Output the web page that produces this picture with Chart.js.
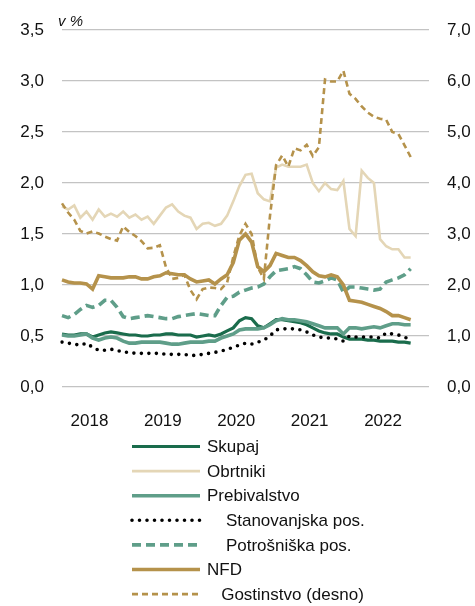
<!DOCTYPE html>
<html>
<head>
<meta charset="utf-8">
<script src="https://cdn.jsdelivr.net/npm/chart.js@4.4.1/dist/chart.umd.min.js"></script>
<style>
  html, body { margin: 0; padding: 0; background: #fff; }
  #wrap { width: 475px; height: 606px; position: relative; }
</style>
</head>
<body>
<div id="wrap"><canvas id="npl"></canvas></div>
<script>
// monthly, Sep 2017 onwards (axis runs a few months past the last value)
const months = [];
for (let i = 0; i < 61; i++) {
  const m = (8 + i) % 12 + 1;
  const y = 2017 + Math.floor((8 + i) / 12);
  months.push(y + '-' + String(m).padStart(2, '0'));
}

const skupaj = [0.52,0.51,0.51,0.52,0.52,0.49,0.51,0.53,0.54,0.53, 0.52,0.51,0.51,0.50,0.50,0.51,0.51,0.52,0.52,0.51,
  0.51,0.51,0.49,0.50,0.51,0.50,0.52,0.55,0.58,0.65, 0.68,0.67,0.60,0.58,0.62,0.66,0.66,0.65,0.64,0.63,
  0.61,0.58,0.55,0.53,0.52,0.52,0.49,0.47,0.47,0.47, 0.46,0.46,0.45,0.45,0.45,0.44,0.44,0.43];
const obrtniki = [1.77,1.74,1.78,1.66,1.72,1.64,1.74,1.67,1.70,1.67, 1.72,1.66,1.69,1.64,1.67,1.60,1.68,1.76,1.79,1.72,
  1.68,1.66,1.55,1.60,1.61,1.58,1.60,1.68,1.82,1.97, 2.08,2.09,1.90,1.84,1.82,2.15,2.18,2.16,2.16,2.16,
  2.18,2.00,1.92,2.00,1.94,1.93,2.02,1.55,1.48,2.12, 2.05,2.00,1.45,1.38,1.35,1.35,1.27,1.27];
const prebivalstvo = [0.51,0.50,0.50,0.51,0.52,0.48,0.46,0.48,0.49,0.48, 0.45,0.43,0.43,0.44,0.44,0.44,0.44,0.43,0.42,0.42,
  0.43,0.44,0.44,0.44,0.45,0.45,0.48,0.50,0.52,0.56, 0.57,0.57,0.57,0.58,0.61,0.65,0.67,0.66,0.66,0.65,
  0.64,0.62,0.60,0.58,0.58,0.58,0.52,0.58,0.58,0.57, 0.58,0.59,0.58,0.60,0.62,0.62,0.61,0.61];
const stanovanjska = [0.44,0.43,0.42,0.41,0.43,0.39,0.36,0.36,0.37,0.36, 0.34,0.34,0.33,0.33,0.33,0.33,0.33,0.32,0.32,0.32,
  0.32,0.31,0.31,0.32,0.33,0.34,0.35,0.37,0.39,0.41, 0.43,0.42,0.44,0.46,0.50,0.56,0.57,0.57,0.57,0.56,
  0.54,0.51,0.49,0.48,0.48,0.47,0.45,0.50,0.49,0.49, 0.49,0.49,0.48,0.53,0.52,0.51,0.49,0.46];
const potrosniska = [0.70,0.68,0.71,0.76,0.80,0.78,0.80,0.85,0.85,0.78, 0.69,0.67,0.68,0.69,0.70,0.69,0.68,0.67,0.67,0.69,
  0.70,0.71,0.72,0.71,0.70,0.70,0.80,0.88,0.89,0.93, 0.95,0.97,0.98,1.01,1.08,1.14,1.15,1.16,1.18,1.16,
  1.10,1.03,1.02,1.04,1.07,1.05,0.93,0.98,0.98,0.97, 0.96,0.95,0.96,1.03,1.05,1.07,1.10,1.16];
const nfd = [1.05,1.03,1.02,1.02,1.01,0.96,1.09,1.08,1.07,1.07, 1.07,1.08,1.08,1.06,1.06,1.08,1.09,1.12,1.11,1.10,
  1.10,1.06,1.03,1.04,1.05,1.01,1.06,1.10,1.22,1.44, 1.50,1.42,1.18,1.13,1.19,1.31,1.29,1.27,1.27,1.24,
  1.19,1.13,1.09,1.08,1.10,1.08,1.00,0.85,0.84,0.83, 0.81,0.79,0.77,0.74,0.70,0.70,0.68,0.66];
// right axis
const gostinstvo = [3.60,3.42,3.28,3.06,3.01,3.05,3.01,2.95,2.90,2.87, 3.15,3.04,2.96,2.86,2.72,2.73,2.78,2.35,2.12,2.14,
  2.20,1.90,1.72,1.92,1.95,1.94,1.92,2.05,2.55,2.97, 3.20,3.00,2.35,2.12,3.35,4.35,4.54,4.32,4.68,4.64,
  4.75,4.53,4.70,6.03,5.99,5.99,6.20,5.75,5.65,5.50, 5.38,5.30,5.26,5.24,5.00,4.96,4.74,4.51];

const FONT = '"Liberation Sans", Arial, sans-serif';
Chart.defaults.font.family = FONT;
Chart.defaults.font.size = 17;
Chart.defaults.color = '#111';

const fmt = v => v.toFixed(1).replace('.', ',');

function line(label, data, color, width, extra) {
  return Object.assign({
    label: label, data: data, borderColor: color, backgroundColor: color,
    borderWidth: width, pointRadius: 0, tension: 0, fill: false, yAxisID: 'y'
  }, extra || {});
}

const datasets = [
  line('Skupaj', skupaj, '#1a6c4c', 3.2, { order: 7 }),
  line('Obrtniki', obrtniki, '#e4d6b6', 2.6, { order: 6 }),
  line('Prebivalstvo', prebivalstvo, '#5f9e89', 3.6, { order: 5 }),
  line('    Stanovanjska pos.', stanovanjska, '#000', 3.6, { borderDash: [0, 7.5], borderCapStyle: 'round', order: 4 }),
  line('    Potrošniška pos.', potrosniska, '#5f9e89', 3.6, { borderDash: [9, 5], order: 3 }),
  line('NFD', nfd, '#b5924b', 3.6, { order: 2 }),
  line('   Gostinstvo (desno)', gostinstvo, '#b5924b', 2.6, { borderDash: [6, 4], yAxisID: 'y2', order: 1 })
];

// single-column legend under the plot, like the original
const legendRows = {
  id: 'legendRows',
  afterDraw(chart) {
    const ctx = chart.ctx;
    chart.data.datasets.forEach((ds, i) => {
      const y = 446.5 + i * 24.6;
      ctx.save();
      ctx.strokeStyle = ds.borderColor;
      ctx.lineWidth = ds.borderWidth;
      ctx.setLineDash(ds.borderDash || []);
      ctx.lineCap = ds.borderCapStyle || 'butt';
      ctx.beginPath();
      ctx.moveTo(132, y);
      ctx.lineTo(200, y);
      ctx.stroke();
      ctx.restore();
      ctx.save();
      ctx.fillStyle = '#111';
      ctx.font = '17px ' + FONT;
      ctx.textBaseline = 'middle';
      ctx.fillText(ds.label, 207, y + 1);
      ctx.restore();
    });
    ctx.save();
    ctx.fillStyle = '#111';
    ctx.font = 'italic 15px ' + FONT;
    ctx.fillText('v %', 58, 26);
    ctx.restore();
  }
};

new Chart(document.getElementById('npl'), {
  type: 'line',
  data: { labels: months, datasets: datasets },
  plugins: [legendRows],
  options: {
    responsive: true,
    maintainAspectRatio: false,
    animation: false,
    layout: { padding: { top: 30, left: 0, right: 0, bottom: 0 } },
    plugins: { legend: { display: false }, tooltip: { enabled: false } },
    scales: {
      x: {
        grid: { display: false, drawTicks: false },
        border: { display: false },
        ticks: {
          autoSkip: false, maxRotation: 0, padding: 24, labelOffset: 3,
          callback: function (value) {
            const lab = this.getLabelForValue(value);
            return lab.endsWith('-01') ? lab.slice(0, 4) : '';
          }
        },
        afterFit: s => { s.height = 219; }
      },
      y: {
        position: 'left', min: 0, max: 3.5,
        grid: { color: '#c3c3c3', lineWidth: 1.3, drawTicks: false },
        border: { display: false },
        ticks: { stepSize: 0.5, padding: 18, callback: fmt },
        afterFit: s => { s.width = 62; }
      },
      y2: {
        position: 'right', min: 0, max: 7,
        grid: { display: false, drawTicks: false },
        border: { display: false },
        ticks: { stepSize: 1, padding: 18, callback: fmt },
        afterFit: s => { s.width = 46; }
      }
    }
  }
});
</script>
</body>
</html>
